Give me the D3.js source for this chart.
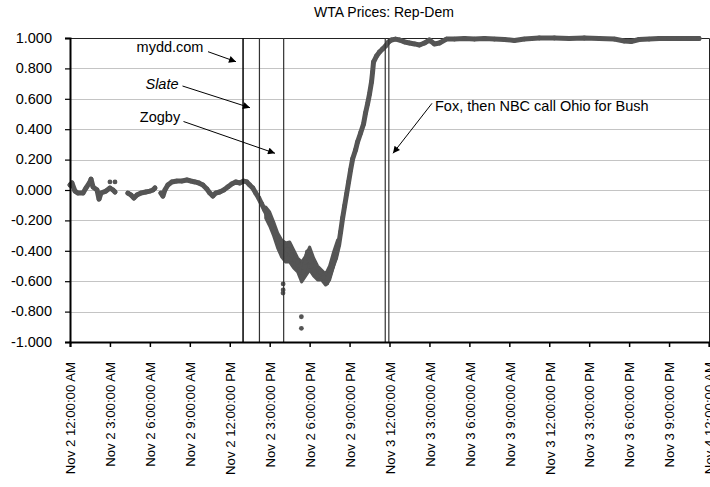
<!DOCTYPE html>
<html><head><meta charset="utf-8">
<script src="https://cdn.jsdelivr.net/npm/d3@7"></script>
<style>body{margin:0;background:#fff}svg{display:block}text{font-family:"Liberation Sans",Arial,sans-serif;fill:#000}</style>
</head><body><svg id="c" width="710" height="487"></svg>
<script>
// ---- data (hours since Nov 2 12:00 AM, price Rep-Dem) ----
const hours = [0,0.15,0.375,0.6,0.98,1.2,1.5,1.58,1.73,2.03,2.18,2.33,2.7,3.0,3.23,3.38,
 4.35,4.58,4.8,5.03,5.33,5.7,6.0,6.23,6.38,
 6.83,6.98,7.13,7.35,7.65,8.03,8.4,8.78,9.08,9.38,9.68,9.98,10.28,10.5,10.73,10.95,11.25,11.55,11.85,12.15,12.45,12.75,13.05,13.28,13.5,13.73,13.95,
 14.18,14.4,14.63,14.85,15.08,15.3,15.53,15.75,15.98,16.2,16.35,16.5,16.65,16.88,17.1,17.25,17.4,17.55,17.7,17.85,18.0,18.15,18.38,18.6,18.83,19.05,19.28,19.5,19.73,19.95,
 20.18,20.33,20.48,20.63,20.78,20.93,21.08,21.23,21.45,21.6,21.83,22.05,22.2,22.35,22.5,22.65,22.73,22.8,23.03,23.25,23.48,23.7,23.93,
 24.15,24.45,24.75,25.13,25.5,25.88,26.25,26.63,27.0,27.38,27.75,28.28,28.88,29.63,30.38,31.13,31.88,32.63,33.38,34.13,35.25,36.38,37.5,38.63,39.75,40.88,41.63,42.15,42.75,43.5,44.25,45.0,45.75,46.5,47.25];
const prices = [0.033,0.046,-0.007,-0.02,-0.02,0.013,0.053,0.072,0.02,0.0,-0.06,-0.02,-0.007,0.013,0.0,-0.013,
 -0.02,-0.033,-0.053,-0.033,-0.02,-0.013,-0.007,0.0,0.013,
 -0.02,-0.04,0.0,0.033,0.053,0.059,0.059,0.066,0.059,0.053,0.046,0.033,0.007,-0.02,-0.04,-0.02,-0.013,0.0,0.02,0.04,0.053,0.046,0.059,0.053,0.033,0.013,-0.02,
 -0.053,-0.092,-0.132,-0.171,-0.217,-0.263,-0.316,-0.368,-0.408,-0.421,-0.395,-0.362,-0.428,-0.461,-0.474,-0.526,-0.572,-0.539,-0.474,-0.408,-0.428,-0.5,-0.539,-0.566,-0.539,-0.579,-0.612,-0.559,-0.5,-0.447,
 -0.362,-0.276,-0.184,-0.105,-0.026,0.053,0.132,0.204,0.263,0.316,0.375,0.434,0.507,0.566,0.632,0.711,0.776,0.842,0.882,0.908,0.928,0.947,0.974,
 0.987,0.993,0.987,0.974,0.967,0.961,0.954,0.967,0.987,0.961,0.967,0.993,0.993,0.997,0.993,0.997,0.993,0.99,0.984,0.993,1.0,1.0,0.997,1.0,0.997,0.993,0.98,0.977,0.99,0.993,0.997,0.997,0.997,0.997,0.997];
const gapsAfter = [3.38, 6.38];   // trading gaps (no quotes)
// noisy stretch on the afternoon of Nov 2: spread of quotes
const spreadHours = [14.7,15.0,15.3,15.6,15.9,16.2,16.5,16.8,17.1,17.4,17.7,18.0,18.3,18.6,18.9,19.2,19.5,19.8,20.1];
const spreadHigh  = [-0.112,-0.145,-0.211,-0.283,-0.329,-0.349,-0.342,-0.395,-0.447,-0.474,-0.434,-0.375,-0.447,-0.5,-0.526,-0.553,-0.5,-0.408,-0.329];
const spreadLow   = [-0.184,-0.237,-0.303,-0.382,-0.441,-0.474,-0.474,-0.513,-0.539,-0.605,-0.566,-0.526,-0.566,-0.592,-0.592,-0.625,-0.592,-0.5,-0.408];
const strayHours  = [3.0,3.38,16.01,16.01,16.0,17.38,17.38];
const strayPrices = [0.053,0.053,-0.618,-0.658,-0.678,-0.834,-0.91];
const eventHours  = [13.0,14.23,16.05,23.68,23.95];
const eventLabels = ["mydd.com","Slate","Zogby","Fox","NBC"];
const tickHours   = [0,3,6,9,12,15,18,21,24,27,30,33,36,39,42,45,48];
const tickLabels  = ["Nov 2 12:00:00 AM","Nov 2 3:00:00 AM","Nov 2 6:00:00 AM","Nov 2 9:00:00 AM","Nov 2 12:00:00 PM","Nov 2 3:00:00 PM","Nov 2 6:00:00 PM","Nov 2 9:00:00 PM","Nov 3 12:00:00 AM","Nov 3 3:00:00 AM","Nov 3 6:00:00 AM","Nov 3 9:00:00 AM","Nov 3 12:00:00 PM","Nov 3 3:00:00 PM","Nov 3 6:00:00 PM","Nov 3 9:00:00 PM","Nov 4 12:00:00 AM"];
const yTicks = [-1,-0.8,-0.6,-0.4,-0.2,0,0.2,0.4,0.6,0.8,1];
const title = "WTA Prices: Rep-Dem";

// ---- layout ----
const svg = d3.select("#c");
const L = 70, R = 709, T = 38, B = 342;
const x = d3.scaleLinear().domain([0,48]).range([L, R]);
const y = d3.scaleLinear().domain([-1,1]).range([B, T]);
const fmt = v => (v < 0 ? "-" : "") + d3.format(".3f")(Math.abs(v));

// gridlines
svg.append("g").selectAll("line").data(yTicks.filter(v => v > -1 && v < 1)).join("line")
  .attr("x1", L).attr("x2", R).attr("y1", d => Math.round(y(d)) + 0.5).attr("y2", d => Math.round(y(d)) + 0.5)
  .attr("stroke", "#c4c4c4").attr("stroke-width", 1.2);

// plot border (top/right)
svg.append("path").attr("d", `M${L},${T+0.5}H${R+0.5}V${B}`).attr("fill","none").attr("stroke","#222").attr("stroke-width",1);

// data
const col = "#555";
const pts = hours.map((h,i) => [h, prices[i]]);
const segs = [];
let cur = [];
pts.forEach((p,i) => { if (i>0 && gapsAfter.includes(pts[i-1][0])) { segs.push(cur); cur = []; } cur.push(p); });
segs.push(cur);
// spread band
const area = d3.area().x(d => x(d)).y0((d,i) => y(spreadLow[i])).y1((d,i) => y(spreadHigh[i])).curve(d3.curveLinear);
svg.append("path").attr("d", area(spreadHours)).attr("fill", col).attr("stroke", col).attr("stroke-width", 3).attr("stroke-linejoin","round");
const line = d3.line().x(d => x(d[0])).y(d => y(d[1]));
svg.append("g").selectAll("path").data(segs).join("path")
  .attr("d", line).attr("fill","none").attr("stroke", col).attr("stroke-width", 5)
  .attr("stroke-linejoin","round").attr("stroke-linecap","round");
svg.append("g").selectAll("circle").data(pts.concat(strayHours.map((h,i)=>[h,strayPrices[i]]))).join("circle")
  .attr("cx", d => x(d[0])).attr("cy", d => y(d[1])).attr("r", 2.4).attr("fill", col);

// event lines
svg.append("g").selectAll("line").data(eventHours).join("line")
  .attr("x1", d => x(d)).attr("x2", d => x(d)).attr("y1", T).attr("y2", B)
  .attr("stroke", (d,i) => i === 0 ? "#111" : "#333").attr("stroke-width", (d,i) => i === 0 ? 1.6 : 1.2);

// axes
const xAxis = svg.append("g").attr("transform", `translate(0,${B})`)
  .call(d3.axisBottom(x).tickValues(tickHours).tickSize(5).tickFormat((d,i) => tickLabels[i]));
xAxis.select(".domain").attr("stroke","#000").attr("stroke-width",2);
xAxis.selectAll(".tick line").attr("stroke","#000").attr("stroke-width",1.5);
xAxis.selectAll(".tick text").attr("font-size","13.2px").attr("font-family","Liberation Sans, Arial, sans-serif")
  .attr("transform","rotate(-90)").attr("text-anchor","end").attr("x",-20).attr("y",0).attr("dy","0.36em").attr("fill","#000");

const yAxis = svg.append("g").attr("transform", `translate(${L},0)`)
  .call(d3.axisLeft(y).tickValues(yTicks).tickSize(5).tickPadding(13).tickFormat(fmt));
yAxis.select(".domain").attr("stroke","#000").attr("stroke-width",2);
yAxis.selectAll(".tick line").attr("stroke","#000").attr("stroke-width",1.2);
yAxis.selectAll(".tick text").attr("font-size","14.5px").attr("font-family","Liberation Sans, Arial, sans-serif").attr("dy","0.3em").attr("fill","#000");

// title
svg.append("text").attr("x", 384).attr("y", 17).attr("text-anchor","middle").attr("font-size","14px").text(title);

// annotations
svg.append("defs").append("marker").attr("id","ah").attr("viewBox","0 0 10 10").attr("refX",10).attr("refY",5)
  .attr("markerWidth",9).attr("markerHeight",7).attr("markerUnits","userSpaceOnUse").attr("orient","auto")
  .append("path").attr("d","M0,0L10,5L0,10Z").attr("fill","#000");
const notes = [
  {t:"mydd.com", tx:170, ty:52, it:false, a:[208,51.7,236,61.7]},
  {t:"Slate",    tx:162, ty:89, it:true,  a:[182.5,86,250,107.7]},
  {t:"Zogby",    tx:160, ty:122, it:false, a:[183.5,121.5,275,153.3]},
  {t:"Fox, then NBC call Ohio for Bush", tx:435, ty:111, it:false, a:[432,103.3,393,153.3], anchor:"start"}
];
const ng = svg.append("g");
notes.forEach(n => {
  ng.append("text").attr("x", n.tx).attr("y", n.ty).attr("text-anchor", n.anchor || "middle")
    .attr("font-size","14.5px").attr("font-style", n.it ? "italic" : "normal").text(n.t);
  ng.append("line").attr("x1", n.a[0]).attr("y1", n.a[1]).attr("x2", n.a[2]).attr("y2", n.a[3])
    .attr("stroke","#000").attr("stroke-width",1).attr("marker-end","url(#ah)");
});
</script></body></html>
